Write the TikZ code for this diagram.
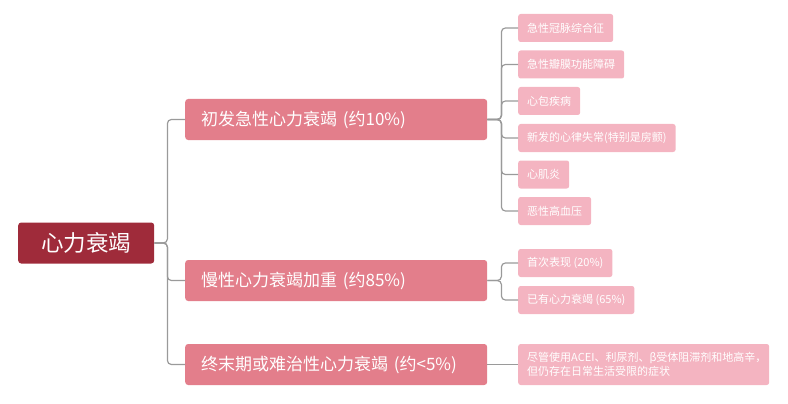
\documentclass[tikz,border=0pt]{standalone}
\usepackage{fontspec}
\setmainfont{Noto Sans CJK SC}
\begin{document}
\begin{tikzpicture}[x=1pt,y=-1pt,
  rootbox/.style={fill=rootc, text=white, rounded corners=3pt, font=\fontsize{22.5}{26}\selectfont,
    minimum width=136pt, minimum height=41pt, inner sep=0pt, anchor=west},
  midbox/.style={fill=midc, text=white, rounded corners=3pt, font=\fontsize{17}{20}\selectfont,
    minimum height=41pt, text width=270pt, inner xsep=16pt, inner ysep=0pt, align=left, anchor=west},
  leafbox/.style={fill=leafc, text=white, rounded corners=2.5pt, font=\fontsize{11}{13}\selectfont,
    minimum height=28pt, inner xsep=9pt, inner ysep=0pt, anchor=west},
  link/.style={draw=linkc, line width=1.2pt, rounded corners=4pt}]
\definecolor{rootc}{HTML}{9F2B3A}
\definecolor{midc}{HTML}{E37E8B}
\definecolor{leafc}{HTML}{F4B4C1}
\definecolor{linkc}{HTML}{9A9A9A}
\useasboundingbox (0,0) rectangle (788,404);

\node[rootbox] (root) at (18,243) {心力衰竭};

\node[midbox] (m1) at (185,119.5) {初发急性心力衰竭 (约10\%)};
\node[midbox] (m2) at (185,280.5) {慢性心力衰竭加重 (约85\%)};
\node[midbox] (m3) at (185,364.5) {终末期或难治性心力衰竭 (约<5\%)};

\node[leafbox] (a1) at (518,28) {急性冠脉综合征};
\node[leafbox] (a2) at (518,64.5) {急性瓣膜功能障碍};
\node[leafbox] (a3) at (518,101) {心包疾病};
\node[leafbox] (a4) at (518,138) {新发的心律失常(特别是房颤)};
\node[leafbox] (a5) at (518,174.5) {心肌炎};
\node[leafbox] (a6) at (518,211) {恶性高血压};

\node[leafbox] (b1) at (518,263) {首次表现 (20\%)};
\node[leafbox] (b2) at (518,300) {已有心力衰竭 (65\%)};

\node[leafbox, minimum height=41pt, text width=233pt, align=left,
  font=\fontsize{11}{14.5}\selectfont] (c1) at (518,364.5)
  {尽管使用ACEI、利尿剂、β受体阻滞剂和地高辛，\\但仍存在日常生活受限的症状};

\foreach \m in {m1,m2,m3}
  \draw[link] (root.east) -- ++(13,0) |- (\m.west);
\foreach \c in {a1,a2,a3,a4,a5,a6}
  \draw[link] (m1.east) -- ++(14,0) |- (\c.west);
\foreach \c in {b1,b2}
  \draw[link] (m2.east) -- ++(14,0) |- (\c.west);
\draw[link] (m3.east) -- (c1.west);
\end{tikzpicture}
\end{document}
